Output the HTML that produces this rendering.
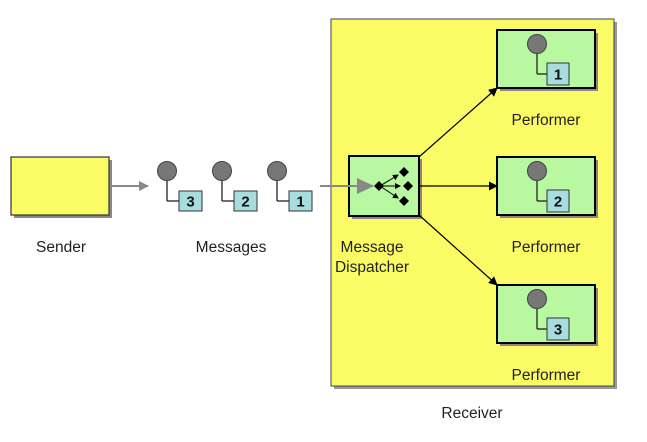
<!DOCTYPE html>
<html><head><meta charset="utf-8"><style>
html,body{margin:0;padding:0;background:#fff;}
svg{display:block;}
text{font-family:"Liberation Sans",Arial,sans-serif;font-size:15.5px;fill:#222;}
.n{font-weight:bold;font-size:15px;fill:#111;}
</style></head><body>
<svg width="647" height="442" viewBox="0 0 647 442" xmlns="http://www.w3.org/2000/svg">
<defs>
<marker id="ga" markerWidth="10" markerHeight="10" refX="9" refY="5" orient="auto" markerUnits="userSpaceOnUse"><path d="M0,0 L10,5 L0,10 z" fill="#888"/></marker>
<marker id="ba" markerWidth="9" markerHeight="9" refX="8" refY="4.5" orient="auto" markerUnits="userSpaceOnUse"><path d="M0,0 L9,4.5 L0,9 z" fill="#000"/></marker>
<marker id="sa" markerWidth="6" markerHeight="6" refX="5" refY="3" orient="auto" markerUnits="userSpaceOnUse"><path d="M0,0 L6,3 L0,6 z" fill="#000"/></marker>
</defs>
<rect x="334" y="22" width="283" height="367" fill="#999"/>
<rect x="331" y="19" width="283" height="367" fill="#fbfb66" stroke="#444" stroke-width="1"/>
<rect x="14" y="160" width="98" height="58" fill="#888"/>
<rect x="11" y="157" width="98" height="58" fill="#fbfb66" stroke="#333" stroke-width="1.2"/>
<line x1="110" y1="186" x2="148" y2="186" stroke="#888" stroke-width="2" marker-end="url(#ga)"/>
<g>
<line x1="167" y1="176" x2="167" y2="201" stroke="#222" stroke-width="1.3"/><line x1="167" y1="201" x2="179" y2="201" stroke="#222" stroke-width="1.3"/>
<circle cx="167" cy="171" r="9.5" fill="#777" stroke="#444"/>
<rect x="179" y="191" width="23" height="20" fill="#a8dde0" stroke="#333"/><text class="n" x="190.5" y="206.5" text-anchor="middle">3</text>
<line x1="222" y1="176" x2="222" y2="201" stroke="#222" stroke-width="1.3"/><line x1="222" y1="201" x2="234" y2="201" stroke="#222" stroke-width="1.3"/>
<circle cx="222" cy="171" r="9.5" fill="#777" stroke="#444"/>
<rect x="234" y="191" width="23" height="20" fill="#a8dde0" stroke="#333"/><text class="n" x="245.5" y="206.5" text-anchor="middle">2</text>
<line x1="277" y1="176" x2="277" y2="201" stroke="#222" stroke-width="1.3"/><line x1="277" y1="201" x2="289" y2="201" stroke="#222" stroke-width="1.3"/>
<circle cx="277" cy="171" r="9.5" fill="#777" stroke="#444"/>
<rect x="289" y="191" width="23" height="20" fill="#a8dde0" stroke="#333"/><text class="n" x="300.5" y="206.5" text-anchor="middle">1</text>
</g>
<rect x="352" y="159" width="70" height="60" fill="#888"/>
<rect x="349" y="156" width="70" height="60" fill="#b8f8a0" stroke="#000" stroke-width="2"/>
<line x1="320" y1="186" x2="373" y2="186" stroke="#888" stroke-width="2"/>
<path d="M357,178 L374,186 L357,194 z" fill="#888"/>
<path d="M379,181 L384,186 L379,191 L374,186 z" fill="#000"/>
<line x1="380" y1="186" x2="398" y2="175" stroke="#000" marker-end="url(#sa)"/>
<line x1="380" y1="186" x2="400" y2="186" stroke="#000" marker-end="url(#sa)"/>
<line x1="380" y1="186" x2="398" y2="198" stroke="#000" marker-end="url(#sa)"/>
<path d="M404,167 L409,172 L404,177 L399,172 z" fill="#000"/>
<path d="M408,181 L413,186 L408,191 L403,186 z" fill="#000"/>
<path d="M404,196 L409,201 L404,206 L399,201 z" fill="#000"/>
<line x1="419" y1="157" x2="497" y2="88" stroke="#000" stroke-width="1.2" marker-end="url(#ba)"/>
<line x1="419" y1="186" x2="497" y2="186" stroke="#000" stroke-width="1.2" marker-end="url(#ba)"/>
<line x1="419" y1="215" x2="497" y2="285" stroke="#000" stroke-width="1.2" marker-end="url(#ba)"/>
<g>
<rect x="500" y="33" width="98" height="58" fill="#888"/>
<rect x="497" y="30" width="98" height="58" fill="#b8f8a0" stroke="#000" stroke-width="2"/>
<line x1="537" y1="50" x2="537" y2="74" stroke="#222" stroke-width="1.3"/><line x1="537" y1="74" x2="547" y2="74" stroke="#222" stroke-width="1.3"/>
<circle cx="537" cy="44" r="9.5" fill="#777" stroke="#444"/>
<rect x="547" y="63" width="22" height="22" fill="#a8dde0" stroke="#333"/><text class="n" x="558" y="79.5" text-anchor="middle">1</text>
</g>
<g transform="translate(0,127)">
<rect x="500" y="33" width="98" height="58" fill="#888"/>
<rect x="497" y="30" width="98" height="58" fill="#b8f8a0" stroke="#000" stroke-width="2"/>
<line x1="537" y1="50" x2="537" y2="74" stroke="#222" stroke-width="1.3"/><line x1="537" y1="74" x2="547" y2="74" stroke="#222" stroke-width="1.3"/>
<circle cx="537" cy="44" r="9.5" fill="#777" stroke="#444"/>
<rect x="547" y="63" width="22" height="22" fill="#a8dde0" stroke="#333"/><text class="n" x="558" y="79.5" text-anchor="middle">2</text>
</g>
<g transform="translate(0,255)">
<rect x="500" y="33" width="98" height="58" fill="#888"/>
<rect x="497" y="30" width="98" height="58" fill="#b8f8a0" stroke="#000" stroke-width="2"/>
<line x1="537" y1="50" x2="537" y2="74" stroke="#222" stroke-width="1.3"/><line x1="537" y1="74" x2="547" y2="74" stroke="#222" stroke-width="1.3"/>
<circle cx="537" cy="44" r="9.5" fill="#777" stroke="#444"/>
<rect x="547" y="63" width="22" height="22" fill="#a8dde0" stroke="#333"/><text class="n" x="558" y="79.5" text-anchor="middle">3</text>
</g>
<text x="61" y="252" text-anchor="middle">Sender</text>
<text x="231" y="252" text-anchor="middle">Messages</text>
<text x="372" y="252" text-anchor="middle">Message</text>
<text x="372" y="272" text-anchor="middle">Dispatcher</text>
<text x="546" y="125" text-anchor="middle">Performer</text>
<text x="546" y="252" text-anchor="middle">Performer</text>
<text x="546" y="380" text-anchor="middle">Performer</text>
<text x="472" y="418" text-anchor="middle">Receiver</text>
</svg>
</body></html>
